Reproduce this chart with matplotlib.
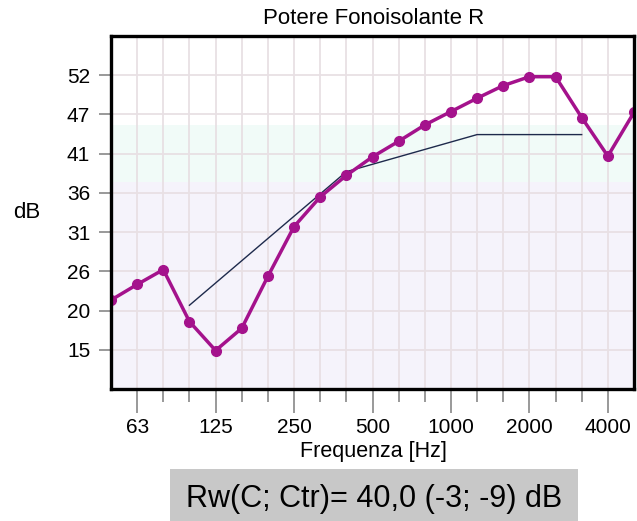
import matplotlib
matplotlib.use("Agg")
import matplotlib.pyplot as plt
import numpy as np

plt.rcParams['font.family'] = ['Liberation Sans', 'DejaVu Sans']

# Third-octave bands (Hz)
bands = [50, 63, 80, 100, 125, 160, 200, 250, 315, 400, 500, 630, 800,
         1000, 1250, 1600, 2000, 2500, 3150, 4000, 5000]
# Measured sound reduction index R (dB)
R_meas = [21.7, 23.8, 25.8, 18.8, 14.9, 17.9, 24.9, 31.6, 35.6, 38.5, 41.0,
          43.1, 45.3, 47.1, 48.9, 50.6, 51.8, 51.8, 46.3, 41.1, 47.0]
# Shifted reference curve (ISO 717-1), 100 .. 3150 Hz
ref_bands = [100, 125, 160, 200, 250, 315, 400, 500, 630, 800, 1000, 1250,
             1600, 2000, 2500, 3150]
ref_vals = [21, 24, 27, 30, 33, 36, 39, 40, 41, 42, 43, 44, 44, 44, 44, 44]

major_bands = [63, 125, 250, 500, 1000, 2000, 4000]
major_labels = ['63', '125', '250', '500', '1000', '2000', '4000']
y_ticks = list(np.linspace(15, 52, 8))
y_labels = ['15', '20', '26', '31', '36', '41', '47', '52']

title = 'Potere Fonoisolante R'
xlabel = 'Frequenza [Hz]'
ylabel = 'dB'
result = 'Rw(C; Ctr)= 40,0 (-3; -9) dB'

W, H = 637, 521
fig = plt.figure(figsize=(W / 100, H / 100), dpi=100)
ax = fig.add_axes([111 / W, 1 - 389 / H, (634 - 111) / W, (389 - 36) / H])

idx = {b: i for i, b in enumerate(bands)}
x_meas = [idx[b] for b in bands]
x_ref = [idx[b] for b in ref_bands]

step = (52 - 15) / 7
ax.set_xlim(0, len(bands) - 1)
ax.set_ylim(15 - step, 52 + step)

# background bands
ax.axhspan(15 - step, 37.55, color='#F5F3FB', zorder=0, lw=0)
ax.axhspan(37.55, 45.25, color='#F1FBF8', zorder=0, lw=0)

# grid
for i in range(len(bands)):
    ax.axvline(i, color='#E8E0E4', lw=1.3, zorder=1)
for yv in y_ticks:
    ax.axhline(yv, color='#E8E0E4', lw=1.3, zorder=1)

ax.plot(x_ref, ref_vals, color='#1E2A4C', lw=1.0, zorder=3)
ax.plot(x_meas, R_meas, color='#A4128C', lw=2.5, marker='o', ms=7,
        zorder=4, clip_on=True)

major_pos = [idx[b] for b in major_bands]
minor_pos = [i for i in range(1, len(bands) - 1) if i not in major_pos]
ax.set_xticks(major_pos)
ax.set_xticklabels(major_labels)
ax.set_xticks(minor_pos, minor=True)
ax.set_yticks(y_ticks)
ax.set_yticklabels(y_labels)

ax.tick_params(axis='x', which='major', length=17, width=1.2, color='#888888',
               labelsize=15, pad=4)
ax.tick_params(axis='x', which='minor', length=9, width=1.2, color='#888888')
ax.tick_params(axis='y', which='major', length=9, width=1.2, color='#888888',
               labelsize=15, pad=6)

for s in ax.spines.values():
    s.set_linewidth(2.4)
    s.set_color('black')
    s.set_zorder(5)

fig.text(374 / W, 1 - 19 / H, title, ha='center', va='center', fontsize=16)
fig.text(27 / W, 1 - 213 / H, ylabel, ha='center', va='center', fontsize=16)
fig.text(373 / W, 1 - 452 / H, xlabel, ha='center', va='center', fontsize=15.5)

# result box
fig.patches.append(matplotlib.patches.Rectangle(
    (170 / W, 0), (578 - 170) / W, (H - 469) / H, transform=fig.transFigure,
    facecolor='#C8C8C8', edgecolor='none'))
fig.text(374 / W, 1 - 499 / H, result, ha='center', va='center', fontsize=22)

fig.savefig('out.png', dpi=100)
